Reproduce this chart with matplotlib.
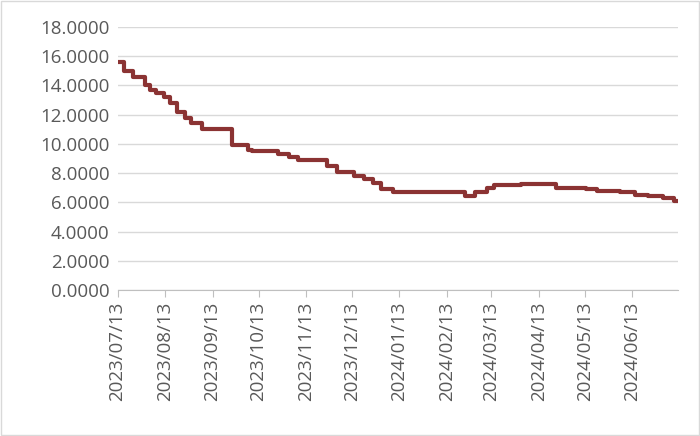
import matplotlib
matplotlib.use("Agg")
import matplotlib.pyplot as plt
import pandas as pd

dates = ["2023-07-13","2023-07-17","2023-07-23","2023-07-31","2023-08-03","2023-08-07",
         "2023-08-12","2023-08-16","2023-08-21","2023-08-26","2023-08-30","2023-09-06",
         "2023-09-26","2023-10-06","2023-10-09","2023-10-26","2023-11-02","2023-11-08",
         "2023-11-27","2023-12-03","2023-12-14","2023-12-21","2023-12-27","2024-01-01",
         "2024-01-09","2024-02-25","2024-03-02","2024-03-10","2024-03-15","2024-04-01",
         "2024-04-24","2024-05-14","2024-05-21","2024-06-05","2024-06-15","2024-06-23",
         "2024-07-03","2024-07-10","2024-07-12"]
values = [15.6,15.0,14.6,14.0,13.7,13.5,13.2,12.8,12.2,11.8,11.4,11.0,
          9.9,9.6,9.5,9.3,9.1,8.9,8.5,8.1,7.8,7.6,7.3,6.9,
          6.7,6.4,6.7,7.0,7.2,7.25,7.0,6.9,6.8,6.7,6.5,6.4,6.3,6.1,6.1]
tick_dates = pd.date_range("2023-07-13", periods=12, freq=pd.DateOffset(months=1))

plt.rcParams['font.family'] = ['Open Sans', 'DejaVu Sans']
fig = plt.figure(figsize=(7, 4.36), dpi=100)
ax = fig.add_axes([0.168, 0.335, 0.801, 0.603])
x = pd.to_datetime(dates)
ax.plot(x, values, drawstyle='steps-post', color='#8B3333', lw=3)
ax.set_ylim(0, 18)
ax.set_yticks(range(0, 19, 2))
ax.yaxis.set_major_formatter(matplotlib.ticker.FuncFormatter(lambda v, p: f"{v:.4f}"))
ax.set_xlim(pd.Timestamp("2023-07-13"), pd.Timestamp("2024-07-13"))
ax.set_xticks(tick_dates)
ax.set_xticklabels([d.strftime("%Y/%m/%d") for d in tick_dates], rotation=90)
ax.grid(axis='y', color='#d9d9d9', lw=1)
ax.set_axisbelow(True)
for s in ['top', 'right', 'left']:
    ax.spines[s].set_visible(False)
ax.spines['bottom'].set_color('#bfbfbf')
ax.tick_params(axis='y', length=0, labelsize=13.5, colors='#595959', pad=6)
ax.tick_params(axis='x', length=5, color='#bfbfbf', labelsize=13.5, labelcolor='#595959')
fig.patches.append(plt.Rectangle((0.001, 0.002), 0.997, 0.995, transform=fig.transFigure,
                                 fill=False, edgecolor='#d9d9d9', lw=1))
fig.savefig("out.png", dpi=100)
